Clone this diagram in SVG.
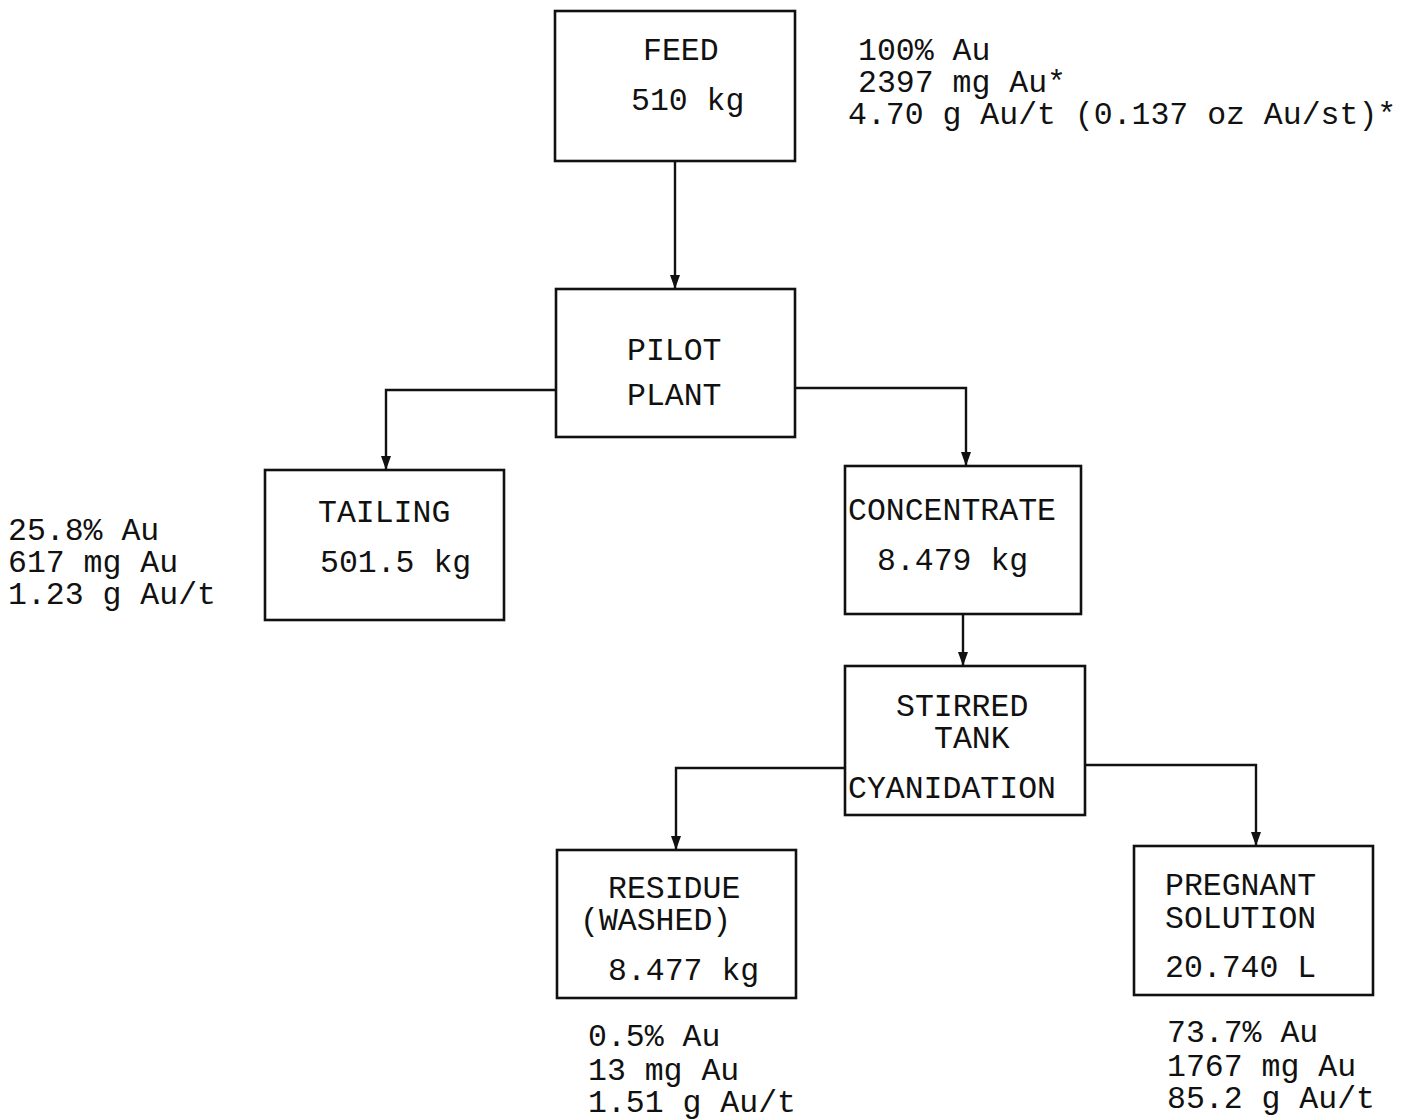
<svg xmlns="http://www.w3.org/2000/svg" width="1415" height="1119" viewBox="0 0 1415 1119">
<style>
.box{fill:#fff;stroke:#111;stroke-width:2.6}
.ln{fill:none;stroke:#111;stroke-width:2.4}
text{font-family:"Liberation Mono","Courier New",monospace;font-size:31.5px;fill:#111}
</style>
<defs>
<marker id="arr" viewBox="0 0 14 10" refX="14" refY="5" markerWidth="14" markerHeight="10" markerUnits="userSpaceOnUse" orient="auto">
<path d="M0,0 L14,5 L0,10 Z" fill="#111"/>
</marker>
</defs>
<rect width="1415" height="1119" fill="#fff"/>
<g id="connectors">
<path class="ln" d="M675,161 L675,289" marker-end="url(#arr)"/>
<path class="ln" d="M555,390 L386,390 L386,470" marker-end="url(#arr)"/>
<path class="ln" d="M795,388 L966,388 L966,466" marker-end="url(#arr)"/>
<path class="ln" d="M963,614 L963,666" marker-end="url(#arr)"/>
<path class="ln" d="M845,768 L676,768 L676,850" marker-end="url(#arr)"/>
<path class="ln" d="M1085,765 L1256,765 L1256,846" marker-end="url(#arr)"/>
</g>
<g id="feed">
<rect class="box" x="555" y="11" width="240" height="150"/>
<text x="643" y="60">FEED</text>
<text x="631" y="110">510 kg</text>
</g>
<g id="feed-data">
<text x="858" y="60">100% Au</text>
<text x="858" y="92">2397 mg Au*</text>
<text x="848" y="124">4.70 g Au/t (0.137 oz Au/st)*</text>
</g>
<g id="pilot-plant">
<rect class="box" x="556" y="289" width="239" height="148"/>
<text x="627" y="360">PILOT</text>
<text x="627" y="405">PLANT</text>
</g>
<g id="tailing">
<rect class="box" x="265" y="470" width="239" height="150"/>
<text x="318" y="522">TAILING</text>
<text x="320" y="572">501.5 kg</text>
</g>
<g id="tailing-data">
<text x="8" y="540">25.8% Au</text>
<text x="8" y="572">617 mg Au</text>
<text x="8" y="604">1.23 g Au/t</text>
</g>
<g id="concentrate">
<rect class="box" x="845" y="466" width="236" height="148"/>
<text x="848" y="520">CONCENTRATE</text>
<text x="877" y="570">8.479 kg</text>
</g>
<g id="stirred-tank">
<rect class="box" x="845" y="666" width="240" height="149"/>
<text x="896" y="716">STIRRED</text>
<text x="934" y="748">TANK</text>
<text x="848" y="798">CYANIDATION</text>
</g>
<g id="residue">
<rect class="box" x="557" y="850" width="239" height="148"/>
<text x="608" y="898">RESIDUE</text>
<text x="580" y="930">(WASHED)</text>
<text x="608" y="980">8.477 kg</text>
</g>
<g id="residue-data">
<text x="588" y="1046">0.5% Au</text>
<text x="588" y="1080">13 mg Au</text>
<text x="588" y="1112">1.51 g Au/t</text>
</g>
<g id="pregnant-solution">
<rect class="box" x="1134" y="846" width="239" height="149"/>
<text x="1165" y="895">PREGNANT</text>
<text x="1165" y="928">SOLUTION</text>
<text x="1165" y="977">20.740 L</text>
</g>
<g id="pregnant-data">
<text x="1167" y="1042">73.7% Au</text>
<text x="1167" y="1076">1767 mg Au</text>
<text x="1167" y="1108">85.2 g Au/t</text>
</g>
</svg>
